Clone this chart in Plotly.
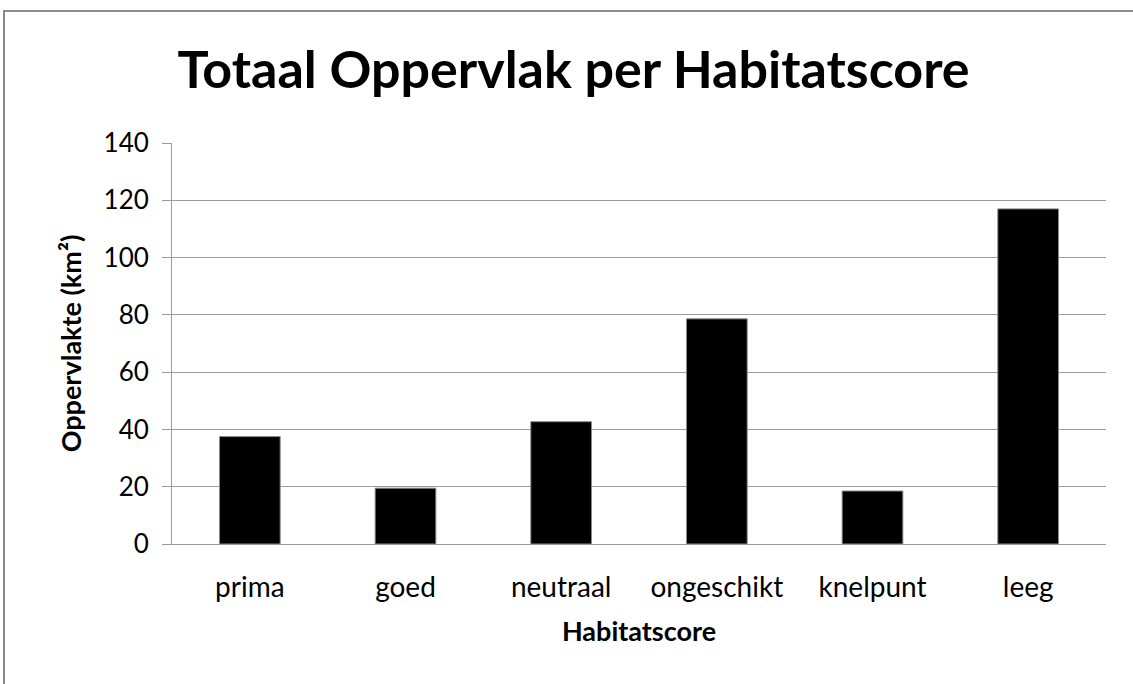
import plotly.graph_objects as go

categories = ["prima", "goed", "neutraal", "ongeschikt", "knelpunt", "leeg"]
values = [37.5, 19.5, 42.7, 78.6, 18.5, 117.0]
y_ticks = [0, 20, 40, 60, 80, 100, 120, 140]

FONT = "Lato"

fig = go.Figure(
    go.Bar(
        x=categories,
        y=values,
        marker=dict(color="black", line=dict(color="#8a8a8a", width=1)),
    )
)

L, R, T, B = 172, 27, 143, 140
W, H = 1133, 684
pw, ph = W - L - R, H - T - B

fig.update_layout(
    width=W,
    height=H,
    margin=dict(l=L, r=R, t=T, b=B),
    paper_bgcolor="white",
    plot_bgcolor="white",
    bargap=0.61,
    showlegend=False,
    title=dict(
        text="<b>Totaal Oppervlak per Habitatscore</b>",
        font=dict(family=FONT, size=52, color="black"),
        x=573.5 / W,
        xanchor="center",
        y=1 - 70 / H,
        yanchor="middle",
    ),
    font=dict(family=FONT, color="black"),
    shapes=[
        dict(
            type="rect",
            xref="paper",
            yref="paper",
            x0=(4 - L) / pw,
            x1=(W + 20 - L) / pw,
            y0=-(H + 20 - (T + ph)) / ph,
            y1=(T + ph - 11) / ph,
            line=dict(color="#8c8c8c", width=2),
            layer="below",
        )
    ],
)

fig.update_yaxes(
    range=[0, 140],
    tickvals=y_ticks,
    showgrid=True,
    gridcolor="#9c9c9c",
    gridwidth=1,
    showline=True,
    linecolor="#9c9c9c",
    linewidth=1,
    ticks="outside",
    ticklen=9,
    tickcolor="#9c9c9c",
    tickfont=dict(family=FONT, size=26, color="black"),
    ticklabelstandoff=8,
    zeroline=False,
    title=dict(
        text="<b>Oppervlakte (km²)</b>",
        font=dict(family=FONT, size=27, color="black"),
        standoff=14,
    ),
)

fig.update_xaxes(
    showline=True,
    linecolor="#9c9c9c",
    linewidth=1,
    ticks="",
    tickfont=dict(family=FONT, size=28, color="black"),
    ticklabelstandoff=18,
    title=dict(
        text="<b>Habitatscore</b>",
        font=dict(family=FONT, size=27, color="black"),
        standoff=20,
    ),
)

post = (
    "document.body.style.margin='0';"
    "document.body.style.padding='0';"
    "document.documentElement.style.overflow='hidden';"
    "document.body.style.overflow='hidden';"
)

fig.write_html("out.html", post_script=post, config={"displayModeBar": False})
